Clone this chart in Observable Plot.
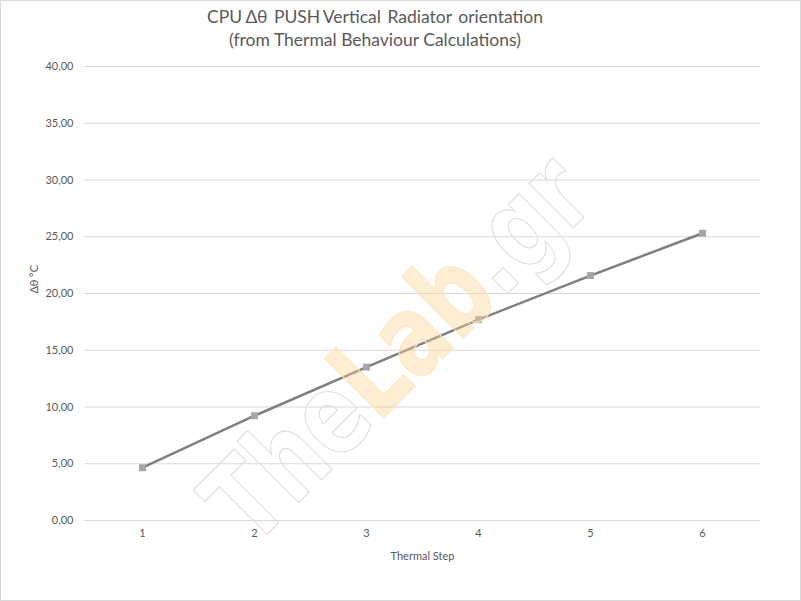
<!DOCTYPE html>
<html><head><meta charset="utf-8">
<script src="https://cdn.jsdelivr.net/npm/d3@7"></script>
<script src="https://cdn.jsdelivr.net/npm/@observablehq/plot@0.6"></script>
<style>
body{margin:0;background:#fff;}
#wrap{position:relative;width:801px;height:601px;overflow:hidden;font-family:Lato,"Liberation Sans",sans-serif;background:#fff;}
#frame{position:absolute;left:0;top:0;width:799px;height:599px;border:1px solid #d9d9d9;pointer-events:none;}
#title{height:56px;width:750px;text-align:center;color:#595959;font-size:17.5px;line-height:23px;white-space:pre;padding-top:5px;box-sizing:border-box;}
#t1{word-spacing:-1.2px;}
#chart svg{display:block;}
</style></head><body>
<div id="wrap">
  <div id="title"><div id="t1"></div><div id="t2"></div></div>
  <div id="chart"></div>
  <div id="frame"></div>
</div>
<script>
const titleLines = ["CPU Δθ  PUSH Vertical  Radiator  orientation", "(from Thermal Behaviour Calculations)"];
const xTitle = "Thermal Step";
const yTitle = "Δθ °C";
const steps = [1, 2, 3, 4, 5, 6];
const deltaTheta = [4.65, 9.23, 13.52, 17.70, 21.58, 25.31];
const yTicks = [0, 5, 10, 15, 20, 25, 30, 35, 40];
const watermark = ["The", "Lab", ".gr"];

document.getElementById("t1").textContent = titleLines[0];
document.getElementById("t2").textContent = titleLines[1];

const data = steps.map((s, i) => ({step: s, value: deltaTheta[i]}));

const plot = Plot.plot({
  width: 801, height: 545,
  marginTop: 10, marginBottom: 81, marginLeft: 84, marginRight: 41,
  style: {fontFamily: "Lato, 'Liberation Sans', sans-serif", fontSize: "11px", color: "#595959", background: "transparent"},
  x: {type: "point", domain: steps, padding: 0.5, label: null},
  y: {domain: [0, 40], label: null},
  marks: [
    Plot.gridY(yTicks, {stroke: "#d9d9d9", strokeOpacity: 1}),
    Plot.axisY(yTicks, {tickSize: 0, tickPadding: 11, tickFormat: d => d.toFixed(2).replace(".", ","), label: null}),
    Plot.axisX(steps, {tickSize: 0, tickPadding: 9, label: null}),
    Plot.line(data, {x: "step", y: "value", stroke: "#7f7f7f", strokeWidth: 2.5}),
    Plot.dot(data, {x: "step", y: "value", symbol: "square", r: 3.9, fill: "#a5a5a5"}),
    Plot.text([yTitle], {text: d => d, frameAnchor: "left", dx: -50, rotate: -90, fill: "#595959", fontSize: 11}),
    Plot.text([xTitle], {text: d => d, frameAnchor: "bottom", dy: 39, fill: "#595959", fontSize: 11})
  ]
});
document.getElementById("chart").appendChild(plot);

// watermark
const svg = d3.select(plot);
const wm = svg.append("text")
  .attr("transform", "translate(397,292) rotate(-45) scale(1,1.1)")
  .attr("text-anchor", "middle")
  .attr("dominant-baseline", "central")
  .attr("font-family", "'DejaVu Sans Condensed', 'DejaVu Sans', sans-serif")
  .attr("font-weight", "bold")
  .attr("font-size", 104)
  .attr("textLength", 490)
  .attr("lengthAdjust", "spacingAndGlyphs");
wm.append("tspan").text(watermark[0]).attr("fill", "none").attr("stroke", "#dcdcdc").attr("stroke-width", 1);
wm.append("tspan").text(watermark[1]).attr("fill", "#fbd28e").attr("fill-opacity", 0.4).attr("stroke", "#fde6c0").attr("stroke-width", 1);
wm.append("tspan").text(watermark[2]).attr("fill", "none").attr("stroke", "#dcdcdc").attr("stroke-width", 1);
</script>
</body></html>
